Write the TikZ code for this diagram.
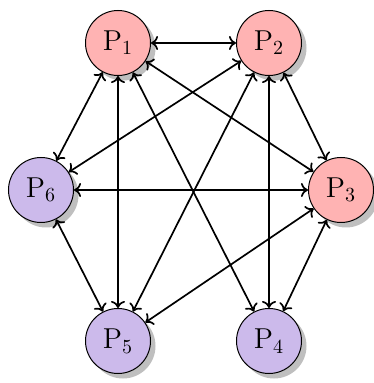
\documentclass[tikz,border=0pt]{standalone}
\usetikzlibrary{shadows,arrows.meta}
\definecolor{pnode}{RGB}{255,179,179}
\definecolor{vnode}{RGB}{204,186,235}
\begin{document}
\begin{tikzpicture}[x=0.5pt,y=-0.5pt,
  proc/.style={circle,draw=black,line width=0.5pt,inner sep=0pt,minimum size=32.5pt,
    font=\fontsize{14}{16}\selectfont,
    drop shadow={fill=black!25,opacity=1,shadow xshift=2.5pt,shadow yshift=-2.5pt}},
  pink/.style={proc,fill=pnode},
  lila/.style={proc,fill=vnode},
  link/.style={{To[length=3.5pt,width=7pt]}-{To[length=3.5pt,width=7pt]},line width=0.85pt}]
\useasboundingbox (0,0) rectangle (373,383);
\node[pink] (p1) at (118,43) {$\mathrm{P}_1$};
\node[pink] (p2) at (269,43) {$\mathrm{P}_2$};
\node[pink] (p3) at (341,190) {$\mathrm{P}_3$};
\node[lila] (p4) at (269,341) {$\mathrm{P}_4$};
\node[lila] (p5) at (118,341) {$\mathrm{P}_5$};
\node[lila] (p6) at (41,190) {$\mathrm{P}_6$};
\draw[link] (p1) -- (p2);
\draw[link] (p1) -- (p3);
\draw[link] (p1) -- (p4);
\draw[link] (p1) -- (p5);
\draw[link] (p1) -- (p6);
\draw[link] (p2) -- (p3);
\draw[link] (p2) -- (p4);
\draw[link] (p2) -- (p5);
\draw[link] (p2) -- (p6);
\draw[link] (p3) -- (p4);
\draw[link] (p3) -- (p5);
\draw[link] (p3) -- (p6);
\draw[link] (p5) -- (p6);
\end{tikzpicture}
\end{document}
